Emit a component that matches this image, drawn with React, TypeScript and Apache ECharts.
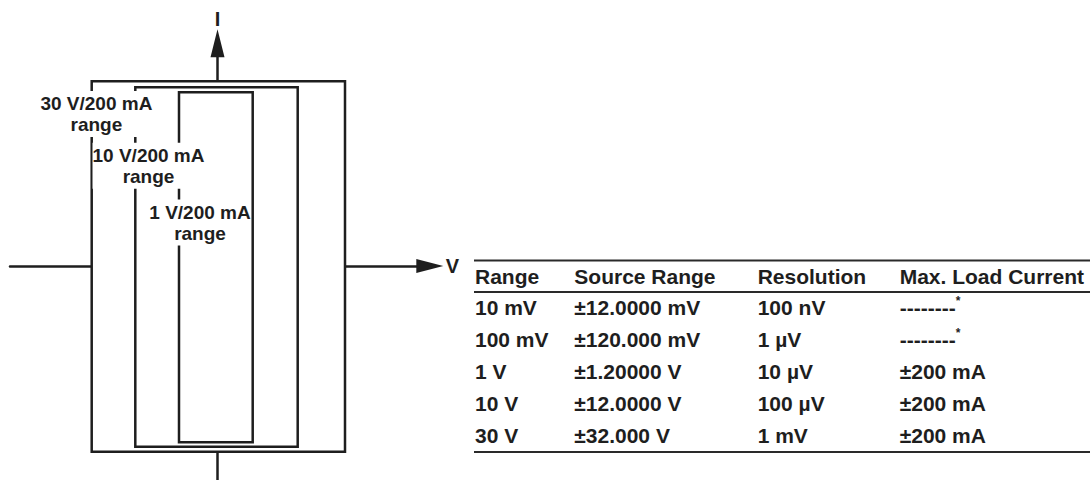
import React, { useEffect, useRef } from 'react';
import * as echarts from 'echarts';

// ---------- Diagram data (schematic diagram units, origin at V = 0, I = 0) ----------
const rangeNames = ['30 V/200 mA', '10 V/200 mA', '1 V/200 mA'];
const boxVLow = [-125.8, -82.2, -38.5];
const boxVHigh = [127.5, 80.2, 35.2];
const boxILow = [-185.7, -180.7, -176.3];
const boxIHigh = [184.8, 178.7, 173.7];
const vAxisExtent = [-207.5, 212.3];
const iAxisExtent = [-214, 222.7];

// ---------- Table data ----------
const tableHeaders = ['Range', 'Source Range', 'Resolution', 'Max. Load Current'];
const rangeCol = ['10 mV', '100 mV', '1 V', '10 V', '30 V'];
const sourceRangeCol = ['±12.0000 mV', '±120.000 mV', '±1.20000 V', '±12.0000 V', '±32.000 V'];
const resolutionCol = ['100 nV', '1 µV', '10 µV', '100 µV', '1 mV'];
const maxLoadCol = ['--------', '--------', '±200 mA', '±200 mA', '±200 mA'];
const footnoteMark = ['*', '*', '', '', ''];

// ---------- Layout / style ----------
const INK = '#1e1e1e';
const FONT = '"Liberation Sans", Arial, Helvetica, sans-serif';
const LABEL_ANCHOR_V = [-121.1, -69, -17.5];
const LABEL_ANCHOR_I = [152.1, 100.2, 43.5];
const COL_X = [475, 574.3, 757.7, 899.7];
const HEADER_Y = 276.5;
const ROW_Y0 = 307.5;
const ROW_STEP = 32;
const RULE_LEFT = 474;
const RULE_RIGHT = 1090;
const RULE_Y = [260.5, 292, 452];

function tableGraphics() {
  const els: any[] = [];
  const textStyle = (text: string, x: number, y: number) => ({
    type: 'text',
    style: {
      text,
      x,
      y,
      align: 'left',
      verticalAlign: 'middle',
      fontSize: 21,
      fontWeight: 'bold',
      fontFamily: FONT,
      fill: INK,
    },
  });
  RULE_Y.forEach((y) => {
    els.push({
      type: 'line',
      shape: { x1: RULE_LEFT, y1: y, x2: RULE_RIGHT, y2: y },
      style: { stroke: '#2a2a2a', lineWidth: 2 },
    });
  });
  tableHeaders.forEach((h, c) => els.push(textStyle(h, COL_X[c], HEADER_Y)));
  const cols = [rangeCol, sourceRangeCol, resolutionCol, maxLoadCol];
  rangeCol.forEach((_, r) => {
    const y = ROW_Y0 + r * ROW_STEP;
    cols.forEach((col, c) => els.push(textStyle(col[r], COL_X[c], y)));
    if (footnoteMark[r]) {
      els.push({
        type: 'text',
        style: {
          text: footnoteMark[r],
          x: COL_X[3] + 56,
          y: y - 7,
          align: 'left',
          verticalAlign: 'middle',
          fontSize: 12,
          fontWeight: 'bold',
          fontFamily: FONT,
          fill: INK,
        },
      });
    }
  });
  return els;
}

export default function App() {
  const ref = useRef<HTMLDivElement>(null);

  useEffect(() => {
    if (!ref.current) return;
    const chart = echarts.init(ref.current, undefined, { renderer: 'svg' });
    const axisCommon = {
      type: 'value' as const,
      axisTick: { show: false },
      axisLabel: { show: false },
      splitLine: { show: false },
      nameLocation: 'end' as const,
      nameTextStyle: {
        fontSize: 20,
        fontWeight: 'bold' as const,
        fontFamily: FONT,
        color: INK,
      },
    };
    chart.setOption({
      animation: false,
      backgroundColor: '#fff',
      grid: {
        left: 10,
        top: 43.3,
        width: 419.8,
        height: 436.7,
        containLabel: false,
        outerBoundsMode: 'none',
      },
      xAxis: {
        ...axisCommon,
        min: vAxisExtent[0],
        max: vAxisExtent[1],
        name: 'V',
        nameGap: 16,
        axisLine: {
          show: true,
          onZero: true,
          symbol: ['none', 'triangle'],
          symbolSize: [14, 27],
          lineStyle: { color: INK, width: 2.5 },
        },
      },
      yAxis: {
        ...axisCommon,
        min: iAxisExtent[0],
        max: iAxisExtent[1],
        name: 'I',
        nameGap: 14,
        axisLine: {
          show: true,
          onZero: true,
          symbol: ['none', 'triangle'],
          symbolSize: [14, 28],
          lineStyle: { color: INK, width: 2.5 },
        },
      },
      series: [
        {
          type: 'custom',
          coordinateSystem: 'cartesian2d',
          clip: false,
          z: 2,
          data: rangeNames.map((_, i) => [boxVLow[i], boxIHigh[i], boxVHigh[i], boxILow[i]]),
          encode: { x: [0, 2], y: [1, 3] },
          renderItem: (params: any, api: any) => {
            const p1 = api.coord([api.value(0), api.value(1)]);
            const p2 = api.coord([api.value(2), api.value(3)]);
            return {
              type: 'rect',
              shape: { x: p1[0], y: p1[1], width: p2[0] - p1[0], height: p2[1] - p1[1] },
              style: { fill: '#fff', stroke: INK, lineWidth: 2.5 },
            };
          },
        },
        {
          type: 'custom',
          coordinateSystem: 'cartesian2d',
          clip: false,
          z: 3,
          data: rangeNames.map((_, i) => [LABEL_ANCHOR_V[i], LABEL_ANCHOR_I[i]]),
          encode: { x: 0, y: 1 },
          renderItem: (params: any, api: any) => {
            const p = api.coord([api.value(0), api.value(1)]);
            return {
              type: 'text',
              x: p[0],
              y: p[1],
              style: {
                text: rangeNames[params.dataIndex] + '\nrange',
                align: 'center',
                verticalAlign: 'middle',
                fontSize: 19,
                fontWeight: 'bold',
                fontFamily: FONT,
                fill: INK,
                lineHeight: 21,
                backgroundColor: '#fff',
                padding: [2, 0],
              },
            };
          },
        },
      ],
      graphic: tableGraphics(),
    });
    return () => chart.dispose();
  }, []);

  return (
    <div
      ref={ref}
      style={{ position: 'absolute', left: 0, top: 0, width: 1092, height: 480 }}
    />
  );
}
